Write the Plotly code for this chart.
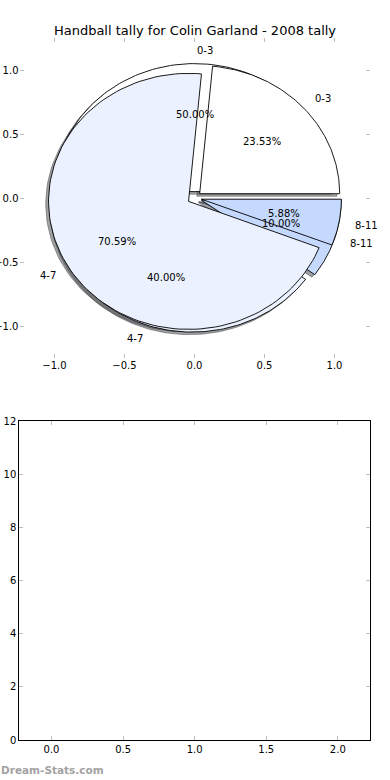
import numpy as np
import plotly.graph_objects as go

# ---------------- data ----------------
chart_title = "Handball tally for Colin Garland - 2008 tally"
categories = ["0-3", "4-7", "8-11"]
tally_first = [5, 4, 1]      # 50.00%, 40.00%, 10.00%
tally_second = [4, 12, 1]    # 23.53%, 70.59%, 5.88%
slice_colors = ["#FFFFFF", "#EBF1FE", "#C5D9FE"]
explode = [0.05, 0.05, 0.05]

pie_tick_vals = [-1.0, -0.5, 0.0, 0.5, 1.0]
pie_tick_text = ["\u22121.0", "\u22120.5", "0.0", "0.5", "1.0"]
bar_x_ticks = [0.0, 0.5, 1.0, 1.5, 2.0]
bar_x_text = ["0.0", "0.5", "1.0", "1.5", "2.0"]
bar_y_ticks = [0, 2, 4, 6, 8, 10, 12]
watermark = "Dream-Stats.com"

FONT = "DejaVu Sans"
W, H = 390, 780


def hex_rgb(h):
    h = h.lstrip("#")
    return tuple(int(h[i:i + 2], 16) for i in (0, 2, 4))


def pie_geometry(values):
    total = float(sum(values))
    t1 = 0.0
    out = []
    for v, e, col, lab in zip(values, explode, slice_colors, categories):
        t2 = t1 + 360.0 * v / total
        tm = np.deg2rad((t1 + t2) / 2.0)
        cx, cy = e * np.cos(tm), e * np.sin(tm)
        out.append(dict(t1=t1, t2=t2, tm=tm, cx=cx, cy=cy, pct=100.0 * v / total,
                        color=col, label=lab))
        t1 = t2
    return out


def wedge_xy(w, dx=0.0, dy=0.0):
    th = np.deg2rad(np.linspace(w["t1"], w["t2"], 120))
    xs = np.concatenate([[w["cx"]], w["cx"] + np.cos(th), [w["cx"]]]) + dx
    ys = np.concatenate([[w["cy"]], w["cy"] + np.sin(th), [w["cy"]]]) + dy
    return xs, ys


pies = [pie_geometry(tally_first), pie_geometry(tally_second)]

fig = go.Figure()

# shadows (drawn beneath all wedges)
for pie in pies:
    for w in pie:
        r, g, b = hex_rgb(w["color"])
        sc = "rgba(%d,%d,%d,0.5)" % (0.3 * r, 0.3 * g, 0.3 * b)
        xs, ys = wedge_xy(w, -0.02, -0.02)
        fig.add_trace(go.Scatter(x=xs, y=ys, mode="lines", fill="toself",
                                 fillcolor=sc, line=dict(color=sc, width=1),
                                 hoverinfo="skip", showlegend=False,
                                 xaxis="x", yaxis="y"))

# wedges
for pie in pies:
    for w in pie:
        xs, ys = wedge_xy(w)
        fig.add_trace(go.Scatter(x=xs, y=ys, mode="lines", fill="toself",
                                 fillcolor=w["color"], line=dict(color="#000000", width=0.9),
                                 hoverinfo="skip", showlegend=False,
                                 xaxis="x", yaxis="y"))

annotations = []
for pie in pies:
    for w in pie:
        lx = w["cx"] + 1.1 * np.cos(w["tm"])
        ly = w["cy"] + 1.1 * np.sin(w["tm"])
        annotations.append(dict(x=lx, y=ly, xref="x", yref="y", text=w["label"],
                                showarrow=False, xanchor="left" if lx > 0 else "right",
                                yanchor="middle", font=dict(family=FONT, size=10, color="#000")))
        px = w["cx"] + 0.6 * np.cos(w["tm"])
        py = w["cy"] + 0.6 * np.sin(w["tm"])
        annotations.append(dict(x=px, y=py, xref="x", yref="y", text="%1.2f%%" % w["pct"],
                                showarrow=False, xanchor="center", yanchor="middle",
                                font=dict(family=FONT, size=10, color="#000")))

annotations.append(dict(x=0.0, y=1 - 770 / H, xref="paper", yref="paper",
                        text="<b>%s</b>" % watermark,
                        showarrow=False, xanchor="left", yanchor="middle", xshift=-1,
                        font=dict(family=FONT, size=10.5, color="#a3a3a3")))

# empty lower axes anchor trace
fig.add_trace(go.Scatter(x=[None], y=[None], mode="markers", hoverinfo="skip",
                         showlegend=False, xaxis="x2", yaxis="y2"))

tick_col = "#bdbdbd"
common = dict(showgrid=False, zeroline=False, ticks="inside", ticklen=4,
              tickcolor=tick_col, tickwidth=1, automargin=False,
              tickfont=dict(family=FONT, size=10, color="#000"))

fig.update_layout(
    width=W, height=H, autosize=False,
    margin=dict(l=0, r=0, t=0, b=0, pad=0, autoexpand=False),
    paper_bgcolor="white", plot_bgcolor="rgba(0,0,0,0)",
    title=dict(text=chart_title, x=0.5, xanchor="center", y=1 - 30 / H, yanchor="middle",
               automargin=False, font=dict(family=FONT, size=13, color="#000")),
    xaxis=dict(domain=[19.5 / W, 369.5 / W], range=[-1.25, 1.25], anchor="y",
               tickvals=pie_tick_vals, ticktext=pie_tick_text,
               showline=False, mirror="ticks", **common),
    yaxis=dict(domain=[1 - 358 / H, 1 - 38 / H], range=[-1.25, 1.25], anchor="x",
               tickvals=pie_tick_vals, ticktext=pie_tick_text,
               showline=False, mirror="ticks", **common),
    xaxis2=dict(domain=[19.3 / W, 370 / W], range=[-0.225, 2.225], anchor="y2",
                tickvals=bar_x_ticks, ticktext=bar_x_text,
                showline=True, linecolor="#000", linewidth=1, mirror="ticks", **common),
    yaxis2=dict(domain=[1 - 740 / H, 1 - 421 / H], range=[0, 12], anchor="x2",
                tickvals=bar_y_ticks,
                showline=True, linecolor="#000", linewidth=1, mirror="ticks", **common),
    annotations=annotations,
)

fig.write_html("out.html", config={"displayModeBar": False},
               post_script="document.body.style.margin='0';")
